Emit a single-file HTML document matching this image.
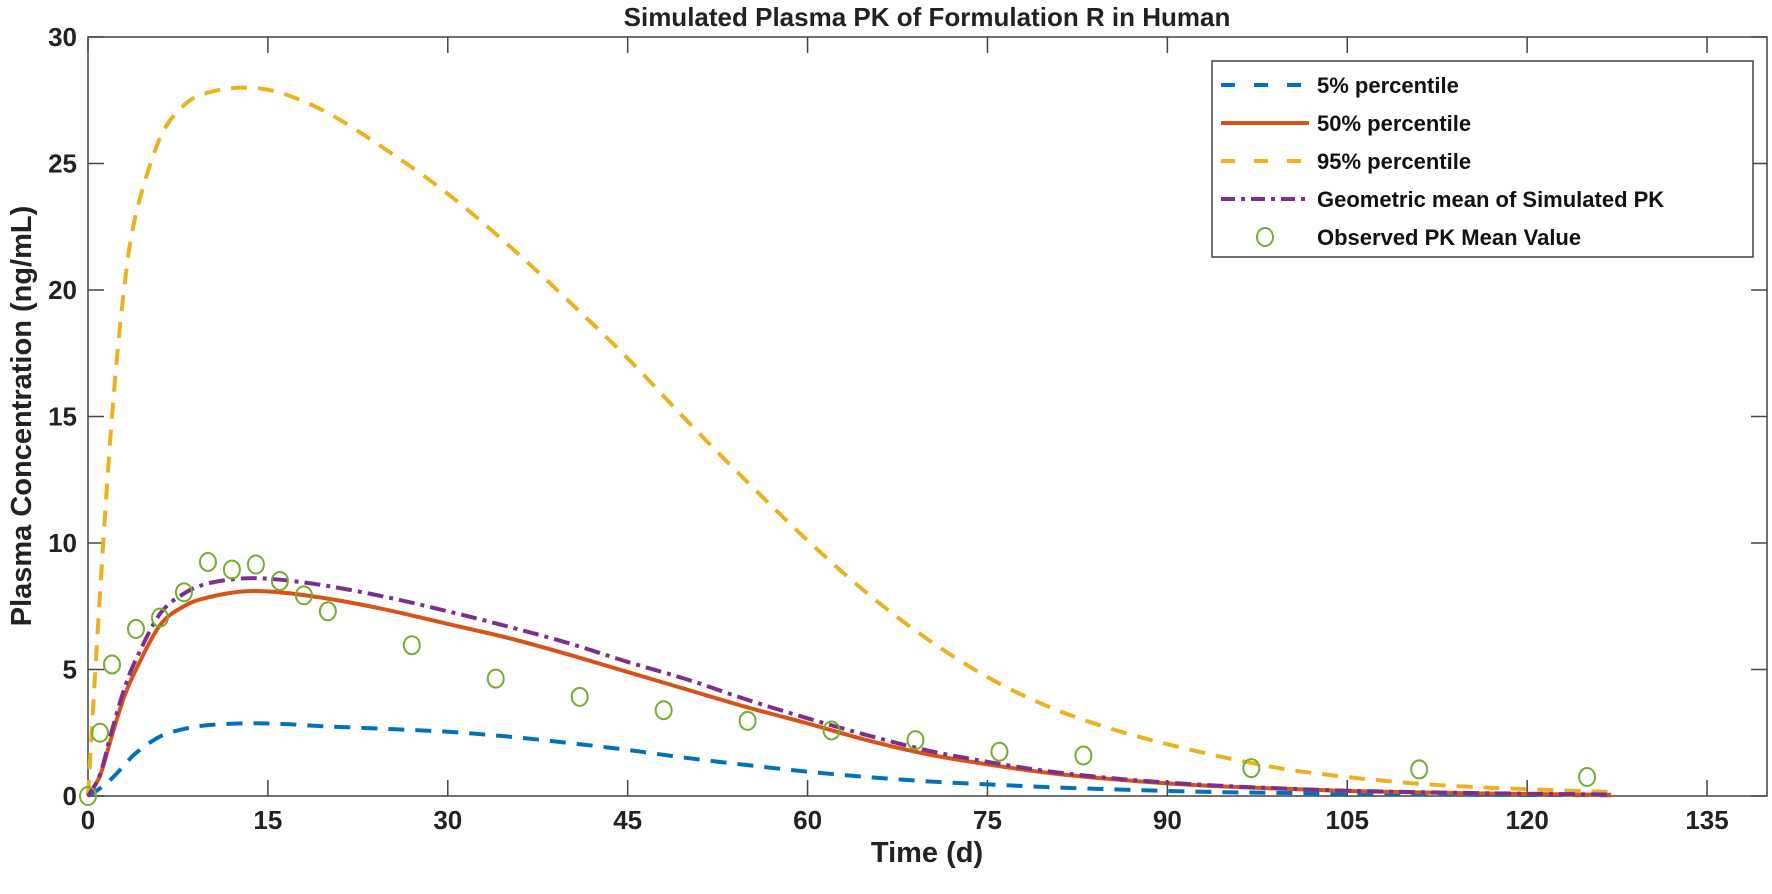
<!DOCTYPE html>
<html><head><meta charset="utf-8"><style>
html,body{margin:0;padding:0;background:#fff;}
svg text{font-family:"Liberation Sans",Arial,sans-serif;font-weight:bold;}
</style></head><body>
<svg id="chart" width="1772" height="889" viewBox="0 0 1772 889" xmlns="http://www.w3.org/2000/svg">
<rect x="0" y="0" width="1772" height="889" fill="#fff"/>
<text x="927" y="26" text-anchor="middle" font-size="26" fill="#222">Simulated Plasma PK of Formulation R in Human</text>
<g id="plot"></g>
<text x="927" y="862" text-anchor="middle" font-size="29" fill="#222">Time (d)</text>
<text transform="translate(31,416) rotate(-90)" text-anchor="middle" font-size="29" fill="#222">Plasma Concentration (ng/mL)</text>
</svg>
<script>
const xTicks=[0,15,30,45,60,75,90,105,120,135];
const yTicks=[0,5,10,15,20,25,30];
const tGrid=[0,1,2,3,4,6,8,10,13,16,20,25,30,35,40,45,50,55,60,65,70,75,80,85,90,95,100,105,110,115,120,127];
const p95=[0,8,15,20,23,26,27.3,27.8,28,27.8,27,25.5,23.8,21.8,19.6,17.3,14.8,12.4,10.1,8.0,6.2,4.7,3.55,2.7,2.05,1.5,1.05,0.75,0.52,0.37,0.27,0.16];
const p50=[0,0.8,2.4,3.9,5.0,6.75,7.5,7.85,8.09,8.05,7.8,7.35,6.8,6.25,5.6,4.9,4.2,3.5,2.87,2.2,1.65,1.25,0.92,0.68,0.5,0.37,0.28,0.2,0.15,0.11,0.08,0.05];
const geo=[0,0.85,2.6,4.2,5.4,7.2,8.0,8.4,8.6,8.55,8.3,7.85,7.3,6.7,6.05,5.3,4.6,3.8,3.07,2.4,1.8,1.35,0.98,0.72,0.53,0.39,0.29,0.21,0.16,0.12,0.09,0.06];
const p05=[0,0.3,0.7,1.2,1.7,2.35,2.65,2.8,2.87,2.85,2.75,2.65,2.54,2.35,2.1,1.82,1.5,1.22,0.96,0.75,0.58,0.46,0.35,0.27,0.2,0.15,0.12,0.09,0.07,0.05,0.04,0.03];
const obsT=[0,1,2,4,6,8,10,12,14,16,18,20,27,34,41,48,55,62,69,76,83,97,111,125];
const obsC=[0,2.5,5.2,6.6,7.05,8.05,9.25,8.95,9.15,8.5,7.93,7.3,5.96,4.64,3.92,3.39,2.97,2.59,2.21,1.75,1.6,1.1,1.05,0.75];
const L=88,R=1767,T=37,B=796,XMAX=140,YMAX=30;
const xs=v=>L+(R-L)*v/XMAX, ys=v=>B-(B-T)*v/YMAX;
const NS="http://www.w3.org/2000/svg";
const g=document.getElementById('plot');
function mk(tag,a){const e=document.createElementNS(NS,tag);for(const k in a)e.setAttribute(k,a[k]);g.appendChild(e);return e;}
function path(xv,yv){const p=xv.map((x,i)=>[xs(x),ys(yv[i])]);let d='M'+p[0][0]+','+p[0][1];
for(let i=0;i<p.length-1;i++){const p0=p[Math.max(0,i-1)],p1=p[i],p2=p[i+1],p3=p[Math.min(p.length-1,i+2)];
const c1=[p1[0]+(p2[0]-p0[0])/6,p1[1]+(p2[1]-p0[1])/6],c2=[p2[0]-(p3[0]-p1[0])/6,p2[1]-(p3[1]-p1[1])/6];
d+=' C'+c1+' '+c2+' '+p2;}return d;}
let e=mk('rect',{x:L,y:T,width:R-L,height:B-T,fill:'none',stroke:'#444','stroke-width':1.5});

xTicks.forEach(v=>{const x=xs(v);
mk('line',{x1:x,x2:x,y1:B,y2:B-16,stroke:'#444','stroke-width':1.5});
mk('line',{x1:x,x2:x,y1:T,y2:T+16,stroke:'#444','stroke-width':1.5});
const t=mk('text',{x:x,y:B+33,'text-anchor':'middle','font-size':26,fill:'#222'});t.textContent=v;
});
yTicks.forEach(v=>{const y=ys(v);
mk('line',{x1:L,x2:L+16,y1:y,y2:y,stroke:'#444','stroke-width':1.5});
mk('line',{x1:R,x2:R-16,y1:y,y2:y,stroke:'#444','stroke-width':1.5});
const t=mk('text',{x:L-11,y:y+9,'text-anchor':'end','font-size':26,fill:'#222'});t.textContent=v;
});
const series=[[p05,'#0072BD','16,11','line-5-percentile'],[p50,'#D95319','','line-50-percentile'],[p95,'#EDB120','16,11','line-95-percentile'],[geo,'#7E2F8E','16,6,4,6','line-geometric-mean']];
series.forEach(s=>{const a={d:path(tGrid,s[0]),fill:'none',stroke:s[1],'stroke-width':4};if(s[2])a['stroke-dasharray']=s[2];
const p=mk('path',a);});
obsT.forEach((t,i)=>{const c=mk('ellipse',{cx:xs(t),cy:ys(obsC[i]),rx:8,ry:9,fill:'none',stroke:'#77AC30','stroke-width':2});
});
const lg=mk('rect',{x:1212,y:61,width:541,height:196,fill:'#fff',stroke:'#444','stroke-width':1.5});

const labels=['5% percentile','50% percentile','95% percentile','Geometric mean of Simulated PK','Observed PK Mean Value'];
const cols=['#0072BD','#D95319','#EDB120','#7E2F8E','#77AC30'];
const dashes=['14,19','','14,19','14,6,4,6',null];
labels.forEach((lab,i)=>{const y=85+i*38;
if(dashes[i]===null){const c=mk('ellipse',{cx:1265,cy:y,rx:8,ry:9,fill:'none',stroke:cols[i],'stroke-width':2});}
else{const a={x1:1221,x2:1309,y1:y,y2:y,stroke:cols[i],'stroke-width':4};if(dashes[i])a['stroke-dasharray']=dashes[i];const l=mk('line',a);}
const t=mk('text',{x:1317,y:y+8,'font-size':22,fill:'#111'});t.textContent=lab;
});
</script>
</body></html>
